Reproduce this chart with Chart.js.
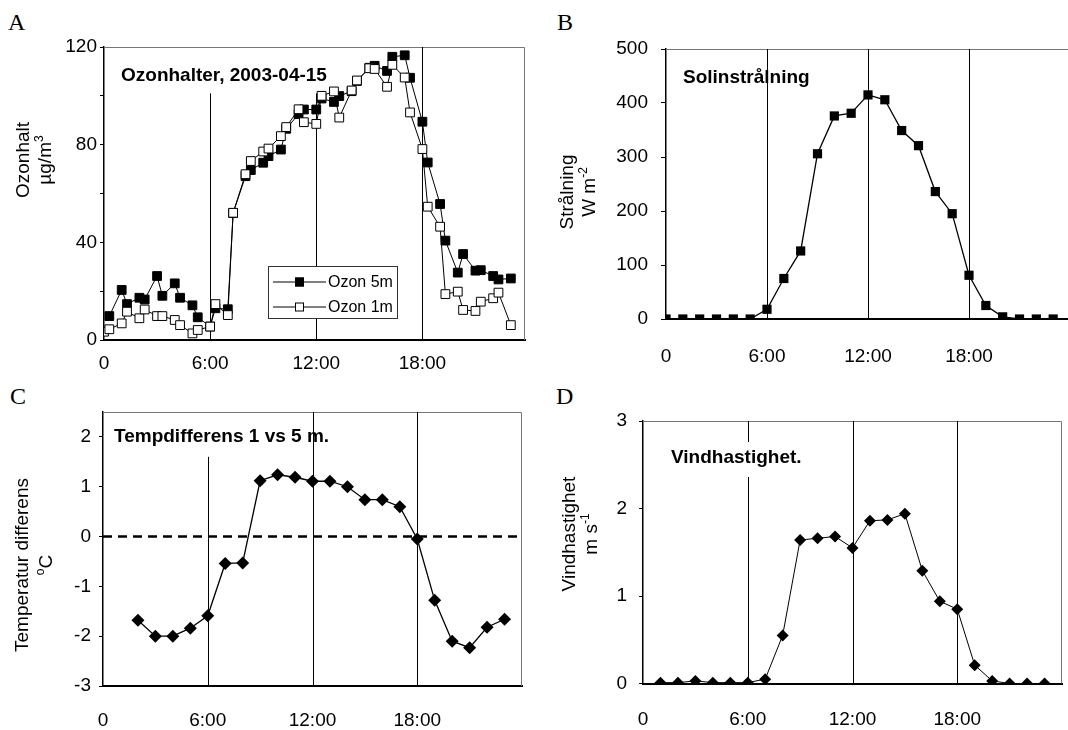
<!DOCTYPE html>
<html>
<head>
<meta charset="utf-8">
<script src="https://cdn.jsdelivr.net/npm/chart.js@4.4.1/dist/chart.umd.min.js"></script>
<style>
html, body { margin: 0; padding: 0; background: #fff; }
body { width: 1068px; height: 730px; position: relative; overflow: hidden; }
.pnl { position: absolute; }
.lett { position: absolute; font-family: "Liberation Serif", "Times New Roman", serif; font-size: 24px; line-height: 24px; color: #000; }
</style>
</head>
<body>
<div class="lett" style="left:8px;top:10px">A</div>
<div class="lett" style="left:557px;top:10px">B</div>
<div class="lett" style="left:10px;top:384px">C</div>
<div class="lett" style="left:556px;top:384px">D</div>

<canvas class="pnl" id="chA" width="540" height="380" style="left:0;top:0"></canvas>
<canvas class="pnl" id="chB" width="540" height="380" style="left:540px;top:0"></canvas>
<canvas class="pnl" id="chC" width="540" height="350" style="left:0;top:380px"></canvas>
<canvas class="pnl" id="chD" width="528" height="350" style="left:540px;top:380px"></canvas>

<script>
const FONT = '"Liberation Sans", Arial, Helvetica, sans-serif';

// hour marks on every x axis
const hourTicks = [0, 6, 12, 18];

// A: ozone, two heights (µg/m3)
const ozon5mTimes = [0.3, 1, 1.3, 2, 2.3, 3, 3.3, 4, 4.3, 5, 5.3, 6, 6.3, 7, 7.3, 8, 8.3, 9, 9.3, 10, 10.3, 11, 11.3,
  12, 12.3, 13, 13.3, 14, 14.3, 15, 15.3, 16, 16.3, 17, 17.3, 18, 18.3, 19, 19.3, 20, 20.3, 21, 21.3, 22, 22.3, 23];
const ozon5m = [9.8, 20.5, 14.7, 17.3, 16.6, 26.2, 18.1, 23.2, 17.3, 14.2, 9.3, 5.5, 13, 12.6, 52, 67.1, 69.6, 72.6, 75.3, 78, 86.5, 92.5, 94.4,
  94.4, 98.9, 97.5, 99.9, 101.9, 106.1, 111.5, 112.3, 110.2, 116, 116.6, 107.4, 89.4, 72.7, 55.7, 40.7, 27.6, 35.2, 28.4, 28.6, 26.2, 24.8, 25.2];
const ozon1mTimes = [0, 0.3, 1, 1.3, 2, 2.3, 3, 3.3, 4, 4.3, 5, 5.3, 6, 6.3, 7, 7.3, 8, 8.3, 9, 9.3, 10, 10.3, 11, 11.3,
  12, 12.3, 13, 13.3, 14, 14.3, 15, 15.3, 16, 16.3, 17, 17.3, 18, 18.3, 19, 19.3, 20, 20.3, 21, 21.3, 22, 22.3, 23];
const ozon1m = [3.4, 4.4, 6.8, 11.6, 8.9, 12.5, 9.8, 9.8, 8.2, 6.1, 2.7, 4.1, 5.5, 14.7, 10.2, 52.1, 67.9, 73.3, 77.2, 78.4, 83.5, 87.2, 94.5, 89.2,
  88.5, 100, 101.8, 91.1, 102.2, 106.3, 111.3, 111, 103.7, 112.7, 107.5, 93.2, 78.2, 54.6, 46.4, 18.8, 19.8, 12.3, 11.9, 15.7, 17.1, 19.4, 6.1];

// B: solar radiation (W m-2)
const solarHours = [0, 1, 2, 3, 4, 5, 6, 7, 8, 9, 10, 11, 12, 13, 14, 15, 16, 17, 18, 19, 20, 21, 22, 23];
const solar = [0, 0, 0, 0, 0, 0, 18, 75, 126, 306, 376, 381, 415, 406, 349, 321, 236, 195, 81, 25, 4, 0, 0, 0];

// C: temperature difference 1 vs 5 m (°C)
const tempHours = [2, 3, 4, 5, 6, 7, 8, 9, 10, 11, 12, 13, 14, 15, 16, 17, 18, 19, 20, 21, 22, 23];
const tempDiff = [-1.68, -2.0, -2.0, -1.84, -1.59, -0.54, -0.53, 1.12, 1.24, 1.19, 1.11, 1.11, 1.0, 0.74, 0.74, 0.6, -0.05, -1.28, -2.1, -2.23, -1.82, -1.66];

// D: wind speed (m s-1)
const windHours = [1, 2, 3, 4, 5, 6, 7, 8, 9, 10, 11, 12, 13, 14, 15, 16, 17, 18, 19, 20, 21, 22, 23];
const wind = [0.01, 0.01, 0.03, 0.01, 0.01, 0.01, 0.05, 0.55, 1.64, 1.66, 1.68, 1.55, 1.86, 1.87, 1.94, 1.29, 0.94, 0.85, 0.21, 0.03, 0, 0, 0];

const pts = (xs, ys) => xs.map((x, i) => ({x: x, y: ys[i]}));

// text with superscript parts: [['W m'], ['-2', true]]
function richWidth(ctx, parts, size) {
  let w = 0;
  parts.forEach(p => {
    ctx.font = (p[1] ? Math.round(size * 0.65) : size) + 'px ' + FONT;
    w += ctx.measureText(p[0]).width;
  });
  return w;
}
function drawRich(ctx, parts, cx, cy, size) {
  let x = cx - richWidth(ctx, parts, size) / 2;
  ctx.textAlign = 'left';
  ctx.textBaseline = 'middle';
  parts.forEach(p => {
    const s = p[1] ? Math.round(size * 0.65) : size;
    ctx.font = s + 'px ' + FONT;
    ctx.fillText(p[0], x, p[1] ? cy - size * 0.35 : cy);
    x += ctx.measureText(p[0]).width;
  });
}

const deco = {
  id: 'deco',
  beforeDatasetsDraw(chart, args, o) {
    const {ctx, chartArea: a} = chart;
    const xs = chart.scales.x, ys = chart.scales.y;
    ctx.save();
    // top and right frame
    ctx.strokeStyle = '#777';
    ctx.lineWidth = 1;
    ctx.beginPath();
    ctx.moveTo(a.left, a.top + 0.5);
    ctx.lineTo(a.right - 0.5, a.top + 0.5);
    ctx.lineTo(a.right - 0.5, a.bottom);
    ctx.stroke();
    // hour lines
    ctx.strokeStyle = '#000';
    hourTicks.filter(h => h > 0).forEach(h => {
      const px = Math.round(xs.getPixelForValue(h)) + 0.5;
      const spans = (o.spans && o.spans[h]) || [[ys.min, ys.max]];
      spans.forEach(s => {
        ctx.beginPath();
        ctx.moveTo(px, ys.getPixelForValue(s[0]));
        ctx.lineTo(px, ys.getPixelForValue(s[1]));
        ctx.stroke();
      });
    });
    if (o.zeroLine) {
      const py = ys.getPixelForValue(0);
      ctx.lineWidth = 2.5;
      ctx.setLineDash([9, 6]);
      ctx.beginPath();
      ctx.moveTo(a.left, py);
      ctx.lineTo(a.right, py);
      ctx.stroke();
      ctx.setLineDash([]);
    }
    ctx.restore();
  },
  afterDraw(chart, args, o) {
    const ctx = chart.ctx;
    ctx.save();
    ctx.fillStyle = '#000';
    // panel title
    ctx.font = 'bold 19px ' + FONT;
    ctx.textAlign = 'left';
    ctx.textBaseline = 'middle';
    ctx.fillText(o.title, o.titleX, o.titleY);
    // y axis title, two lines rotated
    o.ylab.forEach((parts, i) => {
      ctx.save();
      ctx.translate(o.ylabX[i], o.ylabY);
      ctx.rotate(-Math.PI / 2);
      drawRich(ctx, parts, 0, 0, 19);
      ctx.restore();
    });
    // legend box (panel A only)
    if (o.legend) {
      const L = o.legend;
      ctx.fillStyle = '#fff';
      ctx.fillRect(L.x, L.y, L.w, L.h);
      ctx.strokeStyle = '#333';
      ctx.lineWidth = 1;
      ctx.strokeRect(L.x + 0.5, L.y + 0.5, L.w - 1, L.h - 1);
      chart.data.datasets.slice().reverse().forEach((ds, i) => {
        const cy = L.y + 16 + i * 25;
        ctx.strokeStyle = '#000';
        ctx.beginPath();
        ctx.moveTo(L.x + 5, cy);
        ctx.lineTo(L.x + 58, cy);
        ctx.stroke();
        ctx.fillStyle = ds.pointBackgroundColor;
        ctx.fillRect(L.x + 27, cy - 4.5, 9, 9);
        ctx.strokeRect(L.x + 27.5, cy - 4, 8, 8);
        ctx.fillStyle = '#000';
        ctx.font = '16px ' + FONT;
        ctx.textAlign = 'left';
        ctx.fillText(ds.label, L.x + 60, cy + 1);
      });
    }
    ctx.restore();
  }
};

function panel(id, cfg) {
  return new Chart(document.getElementById(id), {
    type: 'line',
    data: {datasets: cfg.datasets},
    options: {
      responsive: false,
      animation: false,
      events: [],
      layout: {padding: cfg.pad},
      plugins: {legend: {display: false}, tooltip: {enabled: false}, deco: cfg.deco},
      scales: {
        x: {
          type: 'linear', min: 0, max: cfg.xmax,
          afterFit: s => { s.height = cfg.xh; },
          afterBuildTicks: s => { s.ticks = hourTicks.map(v => ({value: v})); },
          grid: {display: false},
          border: {color: '#000', width: 2},
          ticks: {
            color: '#000', padding: cfg.xpad, maxRotation: 0, autoSkip: false,
            font: {family: FONT, size: 19},
            callback: v => v === 0 ? '0' : v + ':00'
          }
        },
        y: {
          min: cfg.ymin, max: cfg.ymax,
          afterFit: s => { s.width = cfg.yw; },
          afterBuildTicks: s => { s.ticks = cfg.yticks.map(v => ({value: v})); },
          grid: {display: true, drawOnChartArea: false, drawTicks: true, tickLength: cfg.tl, color: '#000'},
          border: {color: '#000', width: 1.5},
          ticks: {
            color: '#000', padding: cfg.ypad,
            font: {family: FONT, size: 19},
            callback: cfg.ylabel || (v => v)
          }
        }
      }
    },
    plugins: [deco]
  });
}

// A
panel('chA', {
  datasets: [
    {label: 'Ozon 1m', data: pts(ozon1mTimes, ozon1m), borderColor: '#000', borderWidth: 1,
     pointStyle: 'rect', pointRadius: 6.2, pointBorderWidth: 1, pointBorderColor: '#000', pointBackgroundColor: '#fff'},
    {label: 'Ozon 5m', data: pts(ozon5mTimes, ozon5m), borderColor: '#000', borderWidth: 1,
     pointStyle: 'rect', pointRadius: 6.2, pointBorderWidth: 1, pointBorderColor: '#000', pointBackgroundColor: '#000'}
  ],
  pad: {top: 47, right: 15, left: 0, bottom: 0},
  xmax: 23.8, xh: 40, xpad: 4,
  ymin: 0, ymax: 120, yticks: [0, 20, 40, 60, 80, 100, 120], yw: 104, tl: 4, ypad: 3,
  ylabel: v => v % 40 === 0 ? v : '',
  deco: {
    title: 'Ozonhalter, 2003-04-15', titleX: 121, titleY: 76,
    ylab: [[['Ozonhalt']], [['µg/m'], ['3', true]]], ylabX: [24, 46], ylabY: 160,
    spans: {6: [[0, 101]], 12: [[0, 101]]},
    legend: {x: 268, y: 266, w: 130, h: 53}
  }
});

// B
panel('chB', {
  datasets: [
    {data: pts(solarHours, solar), borderColor: '#000', borderWidth: 1.3,
     pointStyle: 'rect', pointRadius: 6.5, pointBorderWidth: 0, pointBackgroundColor: '#000'}
  ],
  pad: {top: 49, right: 10, left: 0, bottom: 0},
  xmax: 24, xh: 61, xpad: 18,
  ymin: 0, ymax: 500, yticks: [0, 100, 200, 300, 400, 500], yw: 126, tl: 5, ypad: 13,
  deco: {
    title: 'Solinstrålning', titleX: 143, titleY: 78,
    ylab: [[['Strålning']], [['W m'], ['-2', true]]], ylabX: [28, 50], ylabY: 192
  }
});

// C
panel('chC', {
  datasets: [
    {data: pts(tempHours, tempDiff), borderColor: '#000', borderWidth: 1.3,
     pointStyle: 'rectRot', pointRadius: 6.5, pointBorderWidth: 0, pointBackgroundColor: '#000'}
  ],
  pad: {top: 32, right: 18, left: 0, bottom: 0},
  xmax: 24, xh: 44, xpad: 15,
  ymin: -3, ymax: 2.5, yticks: [-3, -2, -1, 0, 1, 2], yw: 103, tl: 4, ypad: 8,
  deco: {
    title: 'Tempdifferens 1 vs 5 m.', titleX: 114, titleY: 57,
    ylab: [[['Temperatur differens']], [['o', true], ['C']]], ylabX: [23, 47], ylabY: 185,
    spans: {6: [[-3, 1.6]]},
    zeroLine: true
  }
});

// D
panel('chD', {
  datasets: [
    {data: pts(windHours, wind), borderColor: '#000', borderWidth: 1,
     pointStyle: 'rectRot', pointRadius: 6, pointBorderWidth: 0, pointBackgroundColor: '#000'}
  ],
  pad: {top: 41, right: 6, left: 0, bottom: 0},
  xmax: 24, xh: 46.5, xpad: 17,
  ymin: 0, ymax: 3, yticks: [0, 1, 2, 3], yw: 103, tl: 4, ypad: 12,
  deco: {
    title: 'Vindhastighet.', titleX: 131, titleY: 78,
    ylab: [[['Vindhastighet']], [['m s'], ['-1', true]]], ylabX: [30, 52], ylabY: 154,
    spans: {6: [[0, 2.36], [2.76, 3]]}
  }
});
</script>
</body>
</html>
